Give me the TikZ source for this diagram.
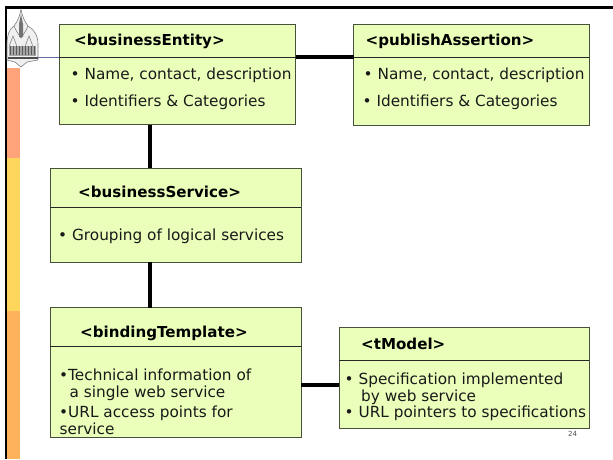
\documentclass[tikz,border=0pt]{standalone}
\usepackage{fontspec}
\setmainfont{DejaVu Sans}
\definecolor{boxfill}{RGB}{234,255,186}
\definecolor{boxline}{RGB}{70,80,60}
\definecolor{salmon}{RGB}{255,163,122}
\definecolor{sunny}{RGB}{255,214,92}
\definecolor{peach}{RGB}{255,178,92}
\definecolor{rulecol}{RGB}{100,105,160}
\tikzset{
  x=1pt,y=-1pt,
  card/.style={draw=boxline,line width=0.9pt,fill=boxfill,anchor=north west,inner sep=0pt,outer sep=0pt},
  link/.style={draw=black,line width=3.8pt},
  sep/.style={draw=black!85,line width=0.8pt},
  head/.style={anchor=base west,inner sep=0pt,font=\fontsize{15.1}{17}\selectfont\bfseries},
  body/.style={anchor=base west,inner sep=0pt,font=\fontsize{15.3}{17}\selectfont,text=black!90},
  logo/.style={draw=black!50,line width=0.6pt,fill=black!6},
  logod/.style={draw=black!55,line width=0.5pt}
}
\begin{document}
\begin{tikzpicture}
\useasboundingbox (0,0) rectangle (613,459);
\fill[white] (0,0) rectangle (613,459);
% slide decoration
\fill[salmon] (7,68) rectangle (20,158);
\fill[sunny] (7,158) rectangle (20,311);
\fill[peach] (7,311) rectangle (20,459);
\fill[black] (4.5,6) rectangle (613,9);
\fill[black] (4.5,6) rectangle (7,459);
\draw[rulecol,line width=0.8pt] (38,57.3) -- (60,57.3);
% logo
\path[logo] (21,9) .. controls (22,15) and (24,21) .. (28,26) .. controls (34,29) and (38,36) .. (38,44) -- (38,60) -- (27,62) -- (21,67) -- (15,62) -- (7,60) -- (7,44) .. controls (7,36) and (9,29) .. (14,26) .. controls (18,21) and (20,15) .. (21,9) -- cycle;
\draw[logod] (14,26) .. controls (16,31) and (19,35) .. (21,38) .. controls (23,35) and (26,31) .. (28,26);
\draw[logod] (9,48) .. controls (10,42) and (12,40) .. (13,36) .. controls (14,40) and (16,42) .. (17,48);
\draw[logod] (25,48) .. controls (26,42) and (28,40) .. (29,36) .. controls (30,40) and (32,42) .. (33,48);
\fill[black!55] (21,14) -- (23,24) -- (23,37) -- (19,37) -- (19,24) -- cycle;
\fill[black!35] (9,46) rectangle (36,56);
\foreach \px in {10,13,16,19,22,25,28,31,34}{\draw[black!65,line width=0.6pt] (\px,46) -- (\px,55);}
\fill[black!70] (7.5,56.5) rectangle (38,59);
% cards
\node[card,minimum width=236.5pt,minimum height=100.5pt] (ent) at (59.3,24) {};
\node[card,minimum width=235.5pt,minimum height=101pt] (pub) at (353.5,24) {};
\node[card,minimum width=251pt,minimum height=94pt] (svc) at (50,168) {};
\node[card,minimum width=251pt,minimum height=129.5pt] (bnd) at (50,307.5) {};
\node[card,minimum width=250pt,minimum height=101pt] (tmd) at (339,327) {};
% connectors
\draw[link] ([yshift=-33.3pt]ent.north east) -- ([yshift=-33.3pt]pub.north west);
\draw[link] ([xshift=91pt]ent.south west) -- ([xshift=100.3pt]svc.north west);
\draw[link] ([xshift=100.3pt]svc.south west) -- ([xshift=100.3pt]bnd.north west);
\draw[link] ([yshift=-57.7pt]tmd.north west) -- ([yshift=-77.2pt]bnd.north east);
% dividers
\draw[sep] ([yshift=-33.3pt]ent.north west) -- ([yshift=-33.3pt]ent.north east);
\draw[sep] ([yshift=-33.3pt]pub.north west) -- ([yshift=-33.3pt]pub.north east);
\draw[sep] ([yshift=-39pt]svc.north west) -- ([yshift=-39pt]svc.north east);
\draw[sep] ([yshift=-38.5pt]bnd.north west) -- ([yshift=-38.5pt]bnd.north east);
\draw[sep] ([yshift=-33.7pt]tmd.north west) -- ([yshift=-33.7pt]tmd.north east);
% texts
\node[head] (t1) at (74,45) {<businessEntity>};
\node[body] (t1a) at (70.5,79.5) {• Name, contact, description};
\node[body] (t1b) at (70.5,106.5) {• Identifiers \& Categories};
\node[head] (t2) at (365.5,45) {<publishAssertion>};
\node[body] (t2a) at (363.5,79.5) {• Name, contact, description};
\node[body] (t2b) at (362.5,106.5) {• Identifiers \& Categories};
\node[head] (t3) at (78,197) {<businessService>};
\node[body] (t3a) at (58,240.5) {• Grouping of logical services};
\node[head] (t4) at (80,337) {<bindingTemplate>};
\node[body] (t4a) at (59,380) {•Technical information of};
\node[body] (t4b) at (69.5,397) {a single web service};
\node[body] (t4c) at (59,417) {•URL access points for};
\node[body] (t4d) at (59.5,434) {service};
\node[head] (t5) at (361,349) {<tModel>};
\node[body] (t5a) at (344.5,384) {• Specification implemented};
\node[body] (t5b) at (361,401) {by web service};
\node[body] (t5c) at (344.5,417) {• URL pointers to specifications};
\node[anchor=base west,inner sep=0pt,font=\fontsize{7}{8}\selectfont,text=black!70] (pg) at (568,436) {24};
\end{tikzpicture}
\end{document}
